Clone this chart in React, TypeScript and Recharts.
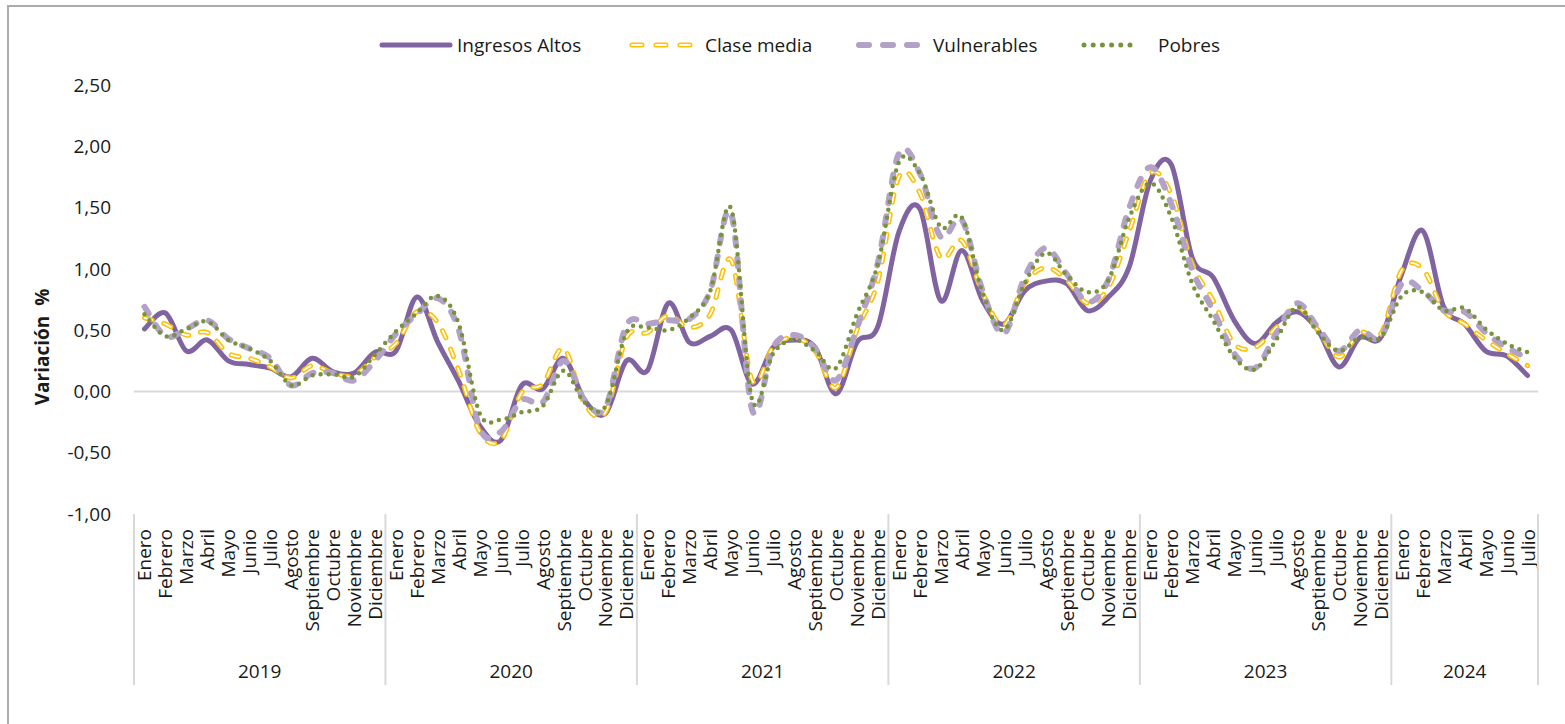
import React from "react";
import { LineChart, Line, XAxis, YAxis, ReferenceLine } from "recharts";

const monthNames = [
  "Enero", "Febrero", "Marzo", "Abril", "Mayo", "Junio",
  "Julio", "Agosto", "Septiembre", "Octubre", "Noviembre", "Diciembre",
];
const years = ["2019", "2020", "2021", "2022", "2023", "2024"];
const monthsPerYear = [12, 12, 12, 12, 12, 7];

const ingresosAltos = [
  0.51, 0.64, 0.33, 0.42, 0.25, 0.22, 0.19, 0.12, 0.27, 0.16, 0.15, 0.32,
  0.33, 0.77, 0.40, 0.08, -0.28, -0.40, 0.05, 0.02, 0.27, -0.07, -0.18, 0.25,
  0.17, 0.72, 0.40, 0.45, 0.50, 0.06, 0.36, 0.42, 0.36, -0.02, 0.40, 0.53,
  1.30, 1.49, 0.74, 1.15, 0.74, 0.55, 0.82, 0.90, 0.88, 0.66, 0.77, 1.02,
  1.72, 1.85, 1.09, 0.93, 0.58, 0.39, 0.56, 0.65, 0.50, 0.20, 0.44, 0.44,
  0.96, 1.31, 0.69, 0.55, 0.33, 0.29, 0.13,
];
const claseMedia = [
  0.60, 0.55, 0.46, 0.48, 0.31, 0.27, 0.20, 0.11, 0.21, 0.15, 0.13, 0.28,
  0.39, 0.65, 0.56, 0.17, -0.33, -0.40, -0.01, 0.06, 0.35, -0.10, -0.17, 0.44,
  0.48, 0.62, 0.52, 0.63, 1.07, 0.09, 0.36, 0.44, 0.33, 0.03, 0.50, 0.90,
  1.75, 1.62, 1.09, 1.23, 0.80, 0.54, 0.88, 1.01, 0.91, 0.72, 0.85, 1.31,
  1.78, 1.61, 1.04, 0.74, 0.39, 0.36, 0.52, 0.69, 0.50, 0.28, 0.48, 0.47,
  0.99, 1.00, 0.66, 0.55, 0.42, 0.31, 0.21,
];
const vulnerables = [
  0.69, 0.45, 0.51, 0.58, 0.43, 0.35, 0.27, 0.05, 0.15, 0.15, 0.09, 0.25,
  0.47, 0.63, 0.76, 0.50, -0.30, -0.33, -0.07, -0.09, 0.25, -0.07, -0.13, 0.54,
  0.55, 0.58, 0.59, 0.82, 1.45, -0.15, 0.36, 0.46, 0.35, 0.09, 0.52, 1.05,
  1.94, 1.78, 1.26, 1.40, 0.82, 0.47, 0.93, 1.17, 0.96, 0.73, 0.91, 1.50,
  1.83, 1.53, 0.99, 0.66, 0.31, 0.19, 0.47, 0.72, 0.52, 0.33, 0.50, 0.44,
  0.88, 0.82, 0.66, 0.65, 0.48, 0.36, 0.27,
];
const pobres = [
  0.63, 0.45, 0.51, 0.57, 0.42, 0.35, 0.25, 0.05, 0.13, 0.14, 0.12, 0.30,
  0.49, 0.64, 0.78, 0.55, -0.18, -0.23, -0.17, -0.12, 0.17, -0.09, -0.12, 0.48,
  0.52, 0.50, 0.60, 0.82, 1.49, -0.07, 0.31, 0.42, 0.33, 0.19, 0.63, 1.04,
  1.87, 1.78, 1.34, 1.42, 0.80, 0.50, 0.88, 1.13, 0.95, 0.81, 0.91, 1.42,
  1.70, 1.42, 0.88, 0.58, 0.28, 0.18, 0.42, 0.69, 0.48, 0.33, 0.44, 0.44,
  0.78, 0.81, 0.66, 0.68, 0.51, 0.39, 0.32,
];

const yTicks = [-1, -0.5, 0, 0.5, 1, 1.5, 2, 2.5];

const rows = years.flatMap((year, yi) =>
  monthNames.slice(0, monthsPerYear[yi]).map((month, mi) => ({
    key: `${year}-${month}`,
    month,
    year,
    first: mi === 0,
    count: monthsPerYear[yi],
  }))
).map((r, i) => ({
  ...r,
  ia: ingresosAltos[i],
  cm: claseMedia[i],
  vu: vulnerables[i],
  po: pobres[i],
}));

// layout
const W = 1565;
const H = 724;
const PLOT_L = 134;
const PLOT_R = 1538;
const PLOT_T = 85;
const PLOT_B = 514;
const BW = (PLOT_R - PLOT_L) / rows.length;
const FONT = "'Open Sans', 'Noto Sans', sans-serif";
const TXT = "#1a1a1a";
const GRID = "#d9d9d9";

// Excel-like smoothing (Catmull-Rom as cubic beziers)
const excelSmooth = (context: any) => {
  let pts: number[][] = [];
  return {
    areaStart() {},
    areaEnd() {},
    lineStart() {
      pts = [];
    },
    lineEnd() {
      if (!pts.length) return;
      context.moveTo(pts[0][0], pts[0][1]);
      for (let i = 0; i < pts.length - 1; i++) {
        const p0 = pts[Math.max(i - 1, 0)];
        const p1 = pts[i];
        const p2 = pts[i + 1];
        const p3 = pts[Math.min(i + 2, pts.length - 1)];
        context.bezierCurveTo(
          p1[0] + (p2[0] - p0[0]) / 6, p1[1] + (p2[1] - p0[1]) / 6,
          p2[0] - (p3[0] - p1[0]) / 6, p2[1] - (p3[1] - p1[1]) / 6,
          p2[0], p2[1]
        );
      }
    },
    point(x: number, y: number) {
      pts.push([+x, +y]);
    },
  };
};

function MonthTick(props: any) {
  const { x, index } = props;
  const row = rows[index];
  if (!row) return null;
  const left = x - BW / 2;
  return (
    <g fontFamily={FONT} fill={TXT}>
      <text
        x={0}
        y={0}
        transform={`translate(${x + 7},${PLOT_B + 15}) rotate(-90)`}
        textAnchor="end"
        fontSize={19}
      >
        {row.month}
      </text>
      {row.first && (
        <>
          <line x1={left} x2={left} y1={PLOT_B} y2={685} stroke={GRID} strokeWidth={2} />
          <text x={left + (row.count * BW) / 2} y={678} textAnchor="middle" fontSize={19}>
            {row.year}
          </text>
        </>
      )}
      {index === rows.length - 1 && (
        <line x1={x + BW / 2} x2={x + BW / 2} y1={PLOT_B} y2={685} stroke={GRID} strokeWidth={2} />
      )}
    </g>
  );
}

const fmt = (v: number) => v.toFixed(2).replace(".", ",");

function Legend() {
  const ly = 45;
  return (
    <svg width={W} height={80} style={{ position: "absolute", left: 0, top: 0 }}>
      <g fontFamily={FONT} fontSize={19} fill={TXT}>
        <line x1={382} x2={450} y1={ly} y2={ly} stroke="#8064A2" strokeWidth={5} strokeLinecap="round" />
        <text x={457} y={ly + 7}>Ingresos Altos</text>

        <line x1={632} x2={690} y1={ly} y2={ly} stroke="#FFC000" strokeWidth={5} strokeLinecap="round" strokeDasharray="10 14" />
        <line x1={632} x2={690} y1={ly} y2={ly} stroke="#fff" strokeWidth={2} strokeLinecap="round" strokeDasharray="10 14" />
        <text x={705} y={ly + 7}>Clase media</text>

        <line x1={859} x2={918} y1={ly} y2={ly} stroke="#B3A2C7" strokeWidth={6} strokeLinecap="round" strokeDasharray="10 14" />
        <text x={933} y={ly + 7}>Vulnerables</text>

        <line x1={1084} x2={1131} y1={ly} y2={ly} stroke="#77933C" strokeWidth={5} strokeLinecap="round" strokeDasharray="0 9.2" />
        <text x={1158} y={ly + 7}>Pobres</text>
      </g>
    </svg>
  );
}

export default function App() {
  return (
    <div style={{ position: "fixed", left: 0, top: 0, width: W, height: H, overflow: "hidden", background: "#fff" }}>
      <div
        style={{
          position: "absolute",
          left: 7,
          top: 5,
          width: 1700,
          height: 900,
          border: "2px solid #ababab",
        }}
      />
      <div style={{ position: "absolute", left: 0, top: 0 }}>
        <LineChart
          width={W}
          height={H}
          data={rows}
          margin={{ top: PLOT_T, right: W - PLOT_R, bottom: 0, left: 0 }}
        >
          <XAxis
            dataKey="key"
            interval={0}
            height={H - PLOT_B}
            padding={{ left: BW / 2, right: BW / 2 }}
            axisLine={false}
            tickLine={false}
            tickSize={0}
            tick={MonthTick}
          />
          <YAxis
            width={PLOT_L}
            domain={[-1, 2.5]}
            ticks={yTicks}
            tickFormatter={fmt}
            axisLine={false}
            tickLine={false}
            tickMargin={17}
            tick={{ fill: TXT, fontSize: 19, fontFamily: FONT }}
            label={{
              content: () => (
                <text
                  x={0}
                  y={0}
                  transform="translate(49,347) rotate(-90)"
                  textAnchor="middle"
                  fontFamily={FONT}
                  fontSize={19}
                  fontWeight="bold"
                  fill={TXT}
                  style={{ whiteSpace: "pre" }}
                >
                  {"Variación  %"}
                </text>
              ),
            }}
          />
          <ReferenceLine y={0} stroke={GRID} strokeWidth={2} />
          <Line
            dataKey="ia"
            type={excelSmooth as any}
            stroke="#8064A2"
            strokeWidth={5}
            strokeLinecap="round"
            dot={false}
            activeDot={false}
            isAnimationActive={false}
          />
          <Line
            dataKey="cm"
            type={excelSmooth as any}
            stroke="#FFC000"
            strokeWidth={5}
            strokeLinecap="round"
            strokeDasharray="8 12"
            dot={false}
            activeDot={false}
            isAnimationActive={false}
          />
          <Line
            dataKey="cm"
            type={excelSmooth as any}
            stroke="#ffffff"
            strokeWidth={1.8}
            strokeLinecap="round"
            strokeDasharray="8 12"
            dot={false}
            activeDot={false}
            isAnimationActive={false}
          />
          <Line
            dataKey="vu"
            type={excelSmooth as any}
            stroke="#B3A2C7"
            strokeWidth={6}
            strokeLinecap="round"
            strokeDasharray="8 13"
            dot={false}
            activeDot={false}
            isAnimationActive={false}
          />
          <Line
            dataKey="po"
            type={excelSmooth as any}
            stroke="#77933C"
            strokeWidth={4.5}
            strokeLinecap="round"
            strokeDasharray="0 8"
            dot={false}
            activeDot={false}
            isAnimationActive={false}
          />
        </LineChart>
      </div>
      <Legend />
    </div>
  );
}
